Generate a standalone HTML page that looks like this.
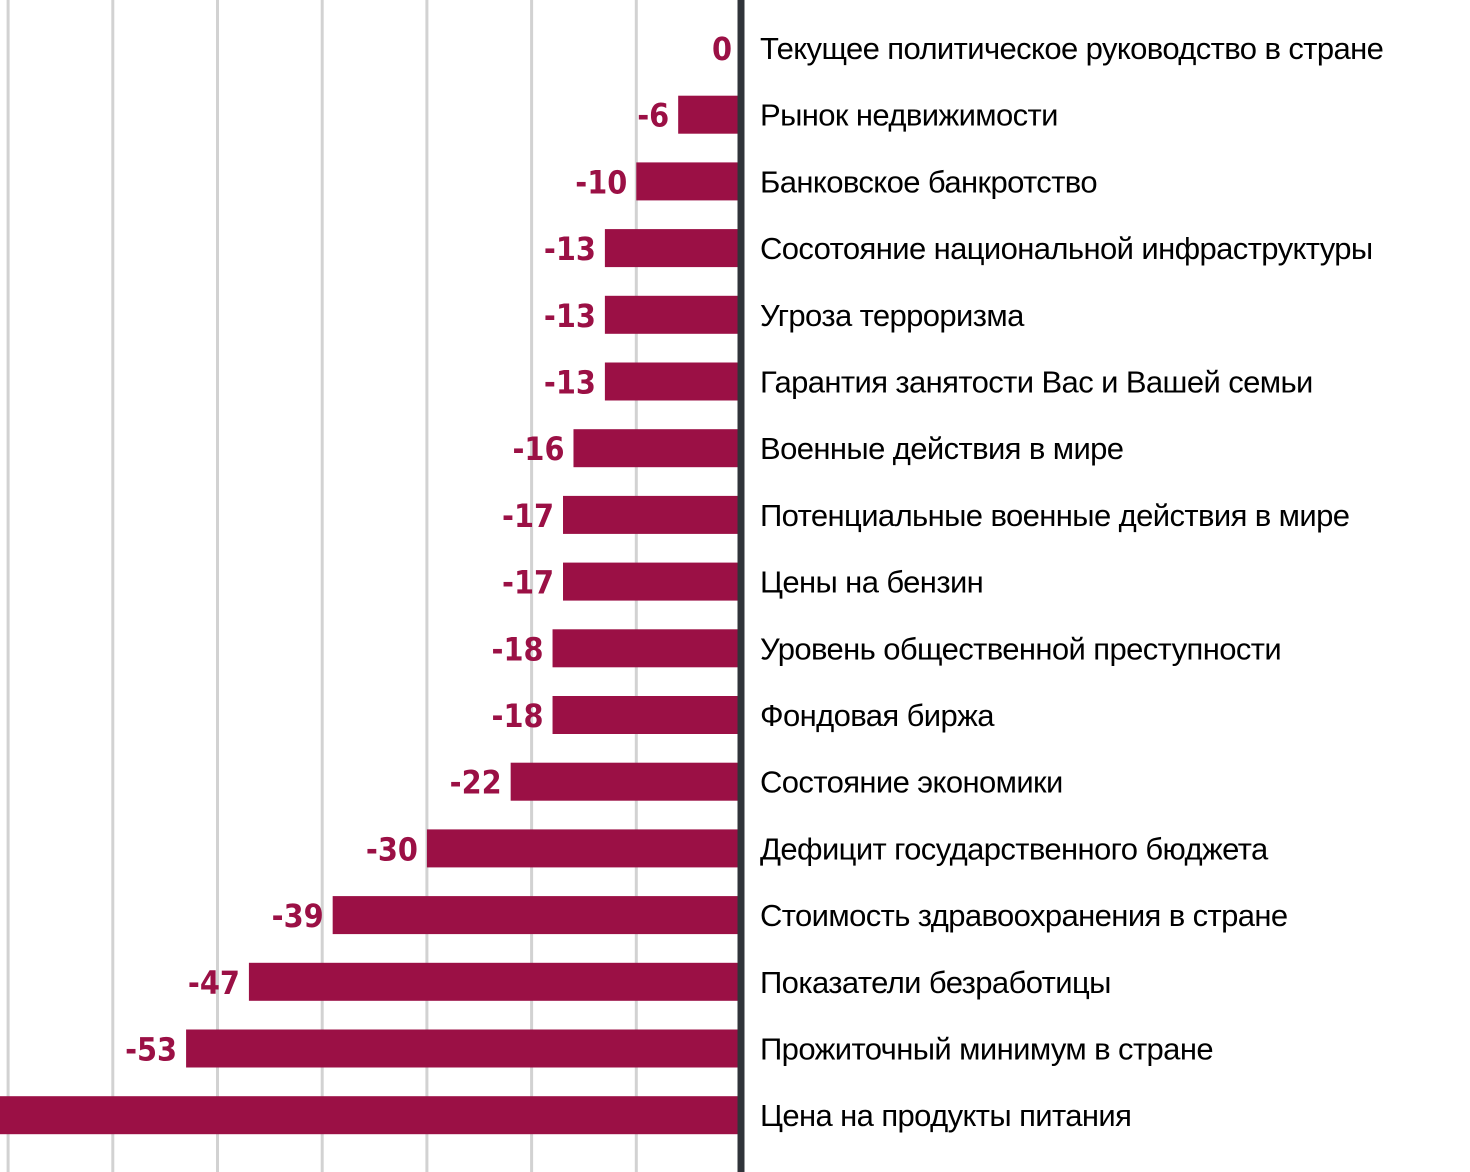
<!DOCTYPE html>
<html><head><meta charset="utf-8">
<style>
html,body{margin:0;padding:0;background:#fff;width:1470px;height:1172px;overflow:hidden}
svg{display:block}
.cat{font-family:"Liberation Sans",sans-serif;font-size:31px;fill:#000;letter-spacing:-0.6px}
.val{font-family:"DejaVu Sans Condensed","DejaVu Sans",sans-serif;font-weight:bold;font-size:32px;fill:#9b1045}
</style></head><body>
<svg id="chart" width="1470" height="1172" xmlns="http://www.w3.org/2000/svg"></svg>
<script>
const categories=["Текущее политическое руководство в стране","Рынок недвижимости","Банковское банкротство","Сосотояние национальной инфраструктуры","Угроза терроризма","Гарантия занятости Вас и Вашей семьи","Военные действия в мире","Потенциальные военные действия в мире","Цены на бензин","Уровень общественной преступности","Фондовая биржа","Состояние экономики","Дефицит государственного бюджета","Стоимость здравоохранения в стране","Показатели безработицы","Прожиточный минимум в стране","Цена на продукты питания"];
const values=[0,-6,-10,-13,-13,-13,-16,-17,-17,-18,-18,-22,-30,-39,-47,-53,-72];
const labels=["0","-6","-10","-13","-13","-13","-16","-17","-17","-18","-18","-22","-30","-39","-47","-53","-72"];
const gridTicks=[-10,-20,-30,-40,-50,-60,-70];
const NS="http://www.w3.org/2000/svg";
const svg=document.getElementById('chart');
const zeroX=741, pxPer=10.47;
const x=v=>zeroX+v*pxPer;
const y=i=>48+i*66.7;
function mk(t,a){const e=document.createElementNS(NS,t);for(const k in a)e.setAttribute(k,a[k]);svg.appendChild(e);return e;}
gridTicks.forEach(t=>{
  const l=mk('line',{x1:x(t),x2:x(t),y1:0,y2:1172,stroke:'#d2d2d2','stroke-width':3});
  
  
});
values.forEach((v,i)=>{
  const bx=Math.min(x(v),zeroX);
  const r=mk('rect',{x:bx,y:y(i)-19,width:Math.abs(x(v)-zeroX),height:38,fill:'#9b1045'});
  
  
  if(x(v)-8>0){
    const t=mk('text',{x:x(v)-9,y:y(i)+12,'text-anchor':'end',class:'val'});
    t.textContent=labels[i];
    
    
  }
  const c=mk('text',{x:760,y:y(i)+11,class:'cat'});
  c.textContent=categories[i];
  
  
});
const ax=mk('line',{x1:741,x2:741,y1:0,y2:1172,stroke:'#30343a','stroke-width':7});


</script>
</body></html>
